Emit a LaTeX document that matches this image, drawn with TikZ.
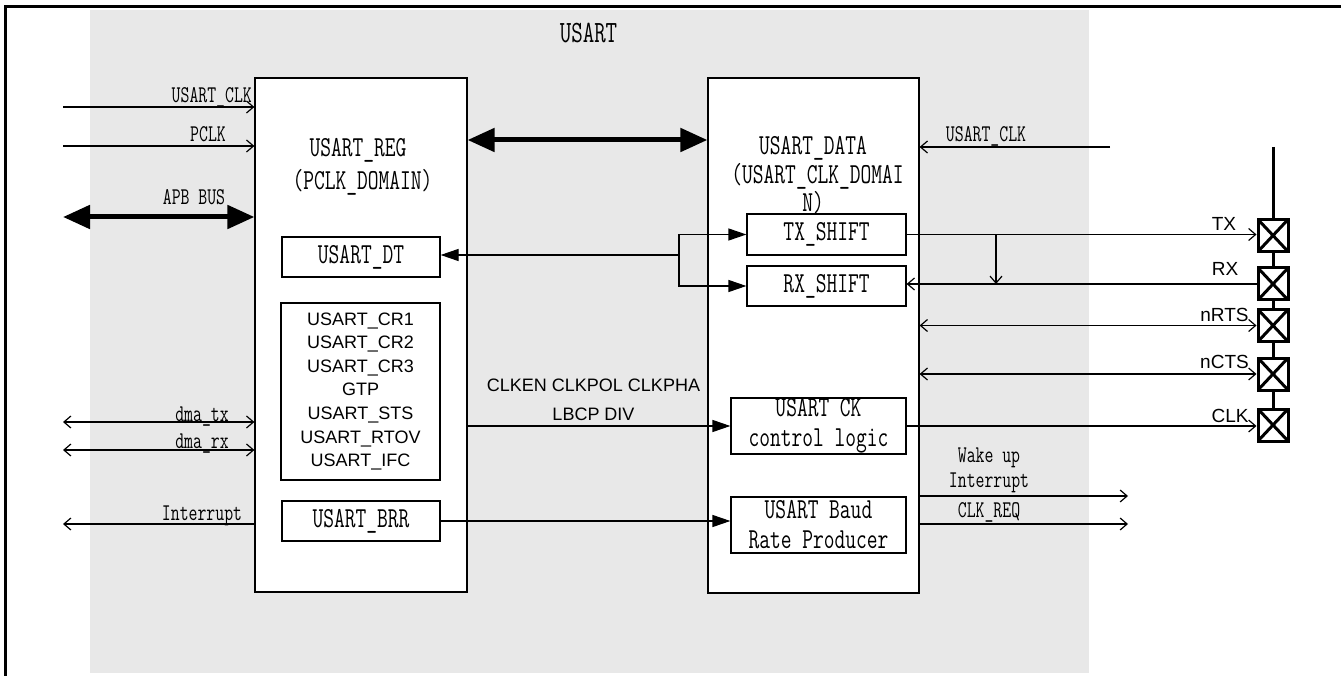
\documentclass[tikz,border=0pt]{standalone}
\usepackage{fontspec}
\setmainfont{Liberation Sans}
\newfontfamily\mono[FakeStretch=0.72]{Latin Modern Mono}
\usetikzlibrary{arrows.meta,calc}
\definecolor{bggray}{HTML}{E8E8E8}
\newcommand{\lpar}{\hspace{9pt}(}
\newcommand{\rpar}{)\hspace{9pt}}
\begin{document}
\begin{tikzpicture}[x=1pt,y=-1pt,
  box/.style={draw,line width=1.2pt,fill=white,inner sep=0pt,align=center},
  small/.style={font=\mono\fontsize{24}{28}\selectfont,inner sep=0pt},
  big/.style={font=\mono\fontsize{29}{30}\selectfont},
  sans/.style={font=\fontsize{18}{23.6}\selectfont,inner sep=0pt},
  padlab/.style={font=\fontsize{19}{23}\selectfont,inner sep=0pt},
  wire/.style={line width=1.2pt},
  openend/.style={wire,-{Straight Barb[length=7pt,width=12pt,line width=1.2pt]}},
  openboth/.style={wire,{Straight Barb[length=7pt,width=12pt,line width=1.2pt]}-{Straight Barb[length=7pt,width=12pt,line width=1.2pt]}},
  filledend/.style={wire,-{Triangle[length=18pt,width=12pt]}},
  bus/.style={line width=5pt,{Triangle[length=27pt,width=23pt]}-{Triangle[length=27pt,width=23pt]}},
  pad/.style={draw,line width=3pt,fill=white,minimum width=30pt,minimum height=32pt,inner sep=0pt,
    path picture={\draw[line width=3pt] (path picture bounding box.north west) -- (path picture bounding box.south east)
      (path picture bounding box.north east) -- (path picture bounding box.south west);}}
]
\useasboundingbox (0,0) rectangle (1341,676);
\fill[bggray] (90,10) rectangle (1089,673);
\draw[line width=3pt] (1341,6.5) -- (5,6.5) -- (5,676);

\node[anchor=base,font=\mono\fontsize{31}{31}\selectfont,inner sep=0pt] (title) at (588.5,43) {USART};

% main blocks
\node[box,minimum width=212pt,minimum height=514pt] (reg) at (361,335) {};
\node[box,minimum width=211pt,minimum height=515pt] (data) at (813.5,335.5) {};

\node[anchor=base,inner sep=0pt,align=center,font=\mono\fontsize{29}{33}\selectfont] (regt) at (358,190)
  {USART\_REG\\\lpar PCLK\_DOMAIN\rpar};
\node[anchor=base,inner sep=0pt,align=center,font=\mono\fontsize{29}{28.5}\selectfont] (datat) at (813,212)
  {USART\_DATA\\\lpar USART\_CLK\_DOMAI\\N\rpar};

% inner boxes
\node[box,big,minimum width=158pt,minimum height=40pt] (dt) at (361,257) {USART\_DT};
\node[box,sans,minimum width=159pt,minimum height=177pt] (cr) at (360.5,391.5)
  {USART\_CR1\\USART\_CR2\\USART\_CR3\\GTP\\USART\_STS\\USART\_RTOV\\USART\_IFC};
\node[box,big,minimum width=158pt,minimum height=40pt] (brr) at (361,521) {USART\_BRR};

\node[box,big,minimum width=159pt,minimum height=41pt] (txs) at (826.5,234.5) {TX\_SHIFT};
\node[box,big,minimum width=159pt,minimum height=40pt] (rxs) at (826.5,286) {RX\_SHIFT};
\node[box,big,minimum width=175pt,minimum height=56pt] (ck) at (818.5,426) {USART CK\\control logic};
\node[box,big,minimum width=175pt,minimum height=56pt] (baud) at (818.5,525) {USART Baud\\Rate Producer};

% pads
\coordinate (padtop) at (1273,147);
\node[pad] (txpad) at (1273,235.5) {};
\node[pad] (rxpad) at (1273,284) {};
\node[pad] (rtspad) at (1273,325.5) {};
\node[pad] (ctspad) at (1273,374) {};
\node[pad] (clkpad) at (1273,425) {};
\draw[line width=3pt] (padtop) -- (txpad.north) (txpad.south) -- (rxpad.north)
  (rxpad.south) -- (rtspad.north) (rtspad.south) -- (ctspad.north) (ctspad.south) -- (clkpad.north);

% left side inputs
\coordinate (uclkL) at (63,107);
\coordinate (pclk) at (63,146);
\coordinate (apb) at (63,217);
\coordinate (dmatx) at (63,422);
\coordinate (dmarx) at (63,450);
\coordinate (intL) at (63,524);
\draw[openend] (uclkL) -- (uclkL -| reg.west);
\draw[openend] (pclk) -- (pclk -| reg.west);
\draw[bus] (apb) -- (apb -| reg.west);
\draw[openboth] (dmatx) -- (dmatx -| reg.west);
\draw[openboth] (dmarx) -- (dmarx -| reg.west);
\draw[openend] (intL -| reg.west) -- (intL);

\node[small,anchor=base east] (l1) at (252,103) {USART\_CLK};
\node[small,anchor=base] (l2) at (208,142) {PCLK};
\node[small,anchor=base] (l3) at (194,205) {APB BUS};
\node[small,anchor=base] (l4) at (202,421) {dma\_tx};
\node[small,anchor=base] (l5) at (202,448) {dma\_rx};
\node[small,anchor=base] (l6) at (202,520) {Interrupt};

% middle
\coordinate (mid) at (587,140);
\draw[bus] (reg.east |- mid) -- (data.west |- mid);
\coordinate (jn) at (679,255);
\draw[filledend] (jn) -- (jn -| dt.east);
\draw[filledend] (jn) |- (txs.west);
\draw[filledend] (jn) |- (rxs.west);
\draw[filledend] (reg.east |- ck.west) -- (ck.west);
\draw[filledend] (brr.east) -- (brr.east -| baud.west);
\node[anchor=base,align=center,inner sep=0pt,font=\fontsize{18}{29}\selectfont] (clken) at (593.5,420) {CLKEN CLKPOL CLKPHA\\LBCP DIV};

% right side
\coordinate (uclkR) at (1110,147);
\draw[openend] (uclkR) -- (uclkR -| data.east);
\node[small,anchor=base] (r1) at (986,142) {USART\_CLK};

\coordinate (br) at (996,234.5);
\draw[openend] (txs.east) -- (txs.east -| txpad.west);
\draw[openend] (rxpad.west) -- (rxpad.west -| rxs.east);
\draw[openend] (br) -- (br |- rxpad.west);
\draw[openboth] (data.east |- rtspad.west) -- (rtspad.west);
\draw[openboth] (data.east |- ctspad.west) -- (ctspad.west);
\draw[openend] (ck.east) -- (ck.east -| clkpad.west);

\node[padlab,anchor=base] (ptx) at (1224,231) {TX};
\node[padlab,anchor=base] (prx) at (1225,276) {RX};
\node[padlab,anchor=base] (prts) at (1224.5,322) {nRTS};
\node[padlab,anchor=base] (pcts) at (1224.5,368) {nCTS};
\node[padlab,anchor=base] (pclkl) at (1230,422) {CLK};

\coordinate (wk) at (1128,496);
\coordinate (creq) at (1128,524);
\draw[openend] (wk -| data.east) -- (wk);
\draw[openend] (creq -| data.east) -- (creq);
\node[small,anchor=base] (w1) at (989,462) {Wake up};
\node[small,anchor=base] (w2) at (989,487) {Interrupt};
\node[small,anchor=base] (w3) at (989,517) {CLK\_REQ};
\end{tikzpicture}
\end{document}
